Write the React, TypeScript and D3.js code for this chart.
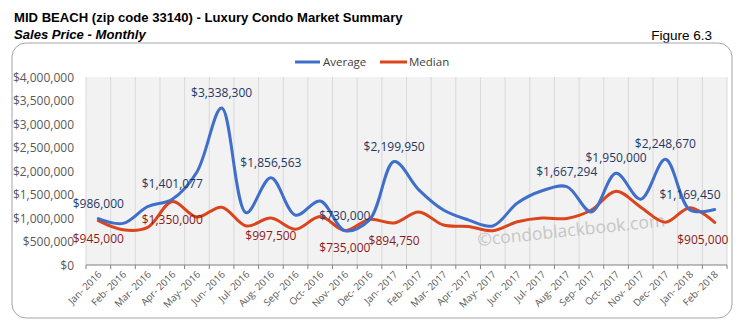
import React from "react";
import * as d3 from "d3";

const months = [
  "Jan- 2016", "Feb- 2016", "Mar- 2016", "Apr- 2016", "May- 2016", "Jun- 2016",
  "Jul- 2016", "Aug- 2016", "Sep- 2016", "Oct- 2016", "Nov- 2016", "Dec- 2016",
  "Jan- 2017", "Feb- 2017", "Mar- 2017", "Apr- 2017", "May- 2017", "Jun- 2017",
  "Jul- 2017", "Aug- 2017", "Sep- 2017", "Oct- 2017", "Nov- 2017", "Dec- 2017",
  "Jan- 2018", "Feb- 2018",
];

const average = [
  986000, 885000, 1240000, 1401077, 1980000, 3338300, 1110000, 1856563, 1060000, 1360000,
  730000, 960000, 2199950, 1600000, 1170000, 960000, 830000, 1320000, 1580000, 1667294,
  1130000, 1950000, 1400000, 2248670, 1169450, 1180000,
];

const median = [
  945000, 750000, 800000, 1350000, 1020000, 1230000, 830000, 997500, 760000, 1030000,
  735000, 970000, 894750, 1130000, 850000, 820000, 730000, 920000, 1000000, 990000,
  1170000, 1570000, 1230000, 910000, 1220000, 905000,
];

const avgLabels = [0, 3, 5, 7, 10, 12, 19, 21, 23, 24];
const medLabels = [0, 3, 7, 10, 12, 25];

const yTicks = [0, 500000, 1000000, 1500000, 2000000, 2500000, 3000000, 3500000, 4000000];

const BLUE = "#3f6fca";
const RED = "#dc441c";
const FONT = "'Open Sans', sans-serif";

export default function App() {
  const W = 737, H = 326;
  const left = 86, right = 727, top = 77, bottom = 265;
  const x = d3.scaleBand<string>().domain(months).range([left, right]);
  const y = d3.scaleLinear().domain([0, 4000000]).range([bottom, top]);
  const cx = (i: number) => (x(months[i]) as number) + x.bandwidth() / 2;
  const line = d3
    .line<number>()
    .x((_, i) => cx(i))
    .y((d) => y(d))
    .curve(d3.curveCatmullRom.alpha(0.5));
  const fmt = (v: number) => "$" + d3.format(",")(v);
  const boundaries = months.map((m) => x(m) as number).concat([right]);

  const labelX = (i: number, text: string) => {
    const w = text.length * 6.3;
    let c = cx(i);
    if (c + w / 2 > 728) c = 728 - w / 2;
    return c;
  };

  return (
    <svg width={W} height={H} style={{ position: "absolute", left: 0, top: 0 }}>
      <rect x={0} y={0} width={W} height={H} fill="#fff" />
      <text x={14} y={22} fontFamily="'Liberation Sans', Arial, sans-serif" fontWeight="bold" fontSize={13.1} fill="#000">
        MID BEACH (zip code 33140) - Luxury Condo Market Summary
      </text>
      <text x={14} y={39} fontFamily="'Liberation Sans', Arial, sans-serif" fontWeight="bold" fontStyle="italic" fontSize={13.1} fill="#000">
        Sales Price - Monthly
      </text>
      <text x={712} y={40} textAnchor="end" fontFamily="'Liberation Sans', Arial, sans-serif" fontSize={13.5} fill="#000">
        Figure 6.3
      </text>
      <rect x={12} y={43} width={720} height={275} rx={14} ry={14} fill="#fff" stroke="#a6a6a6" strokeWidth={1} />

      {/* legend */}
      <line x1={295} x2={320} y1={62} y2={62} stroke={BLUE} strokeWidth={3} />
      <text x={323} y={66} fontFamily={FONT} fontSize={11.5} fill="#404040">Average</text>
      <line x1={380} x2={407} y1={62} y2={62} stroke={RED} strokeWidth={3} />
      <text x={409} y={66} fontFamily={FONT} fontSize={11.5} fill="#404040">Median</text>

      {/* plot background */}
      <rect x={left} y={top} width={right - left} height={bottom - top} fill="#f2f2f2" />
      {boundaries.map((b, i) => (
        <line key={"g" + i} x1={b} x2={b} y1={top} y2={bottom} stroke="#d9d9d9" strokeWidth={1} />
      ))}

      {/* y ticks */}
      {yTicks.map((t) => (
        <text key={"y" + t} x={74} y={y(t) + 4.5} textAnchor="end" fontFamily={FONT} fontSize={12} fill="#595959">
          {fmt(t)}
        </text>
      ))}

      {/* x axis */}
      <line x1={left} x2={right} y1={bottom} y2={bottom} stroke="#808080" strokeWidth={1} />
      {boundaries.map((b, i) => (
        <line key={"t" + i} x1={b} x2={b} y1={bottom} y2={bottom + 4} stroke="#808080" strokeWidth={1} />
      ))}
      {months.map((m, i) => (
        <text
          key={"x" + m}
          x={0}
          y={0}
          transform={`translate(${cx(i) + 4},${bottom + 10}) rotate(-45)`}
          textAnchor="end"
          fontFamily={FONT}
          fontSize={9.8}
          fill="#595959"
        >
          {m}
        </text>
      ))}

      {/* watermark */}
      <text
        x={0}
        y={0}
        transform="translate(478,246) rotate(-6)"
        fontFamily={FONT}
        fontSize={17.5}
        fill="#c6c6c6"
      >
        ©condoblackbook.com
      </text>

      {/* lines */}
      <path d={line(median) || ""} fill="none" stroke={RED} strokeWidth={3} strokeLinecap="round" />
      <path d={line(average) || ""} fill="none" stroke={BLUE} strokeWidth={3} strokeLinecap="round" />

      {/* labels */}
      {avgLabels.map((i) => {
        const t = fmt(average[i]);
        return (
          <text key={"al" + i} x={labelX(i, t)} y={y(average[i]) - 11} textAnchor="middle" fontFamily={FONT} fontSize={12} fill="#1f3864">
            {t}
          </text>
        );
      })}
      {medLabels.map((i) => {
        const t = fmt(median[i]);
        return (
          <text key={"ml" + i} x={labelX(i, t)} y={y(median[i]) + 22} textAnchor="middle" fontFamily={FONT} fontSize={12} fill="#8b1a1a">
            {t}
          </text>
        );
      })}
    </svg>
  );
}
